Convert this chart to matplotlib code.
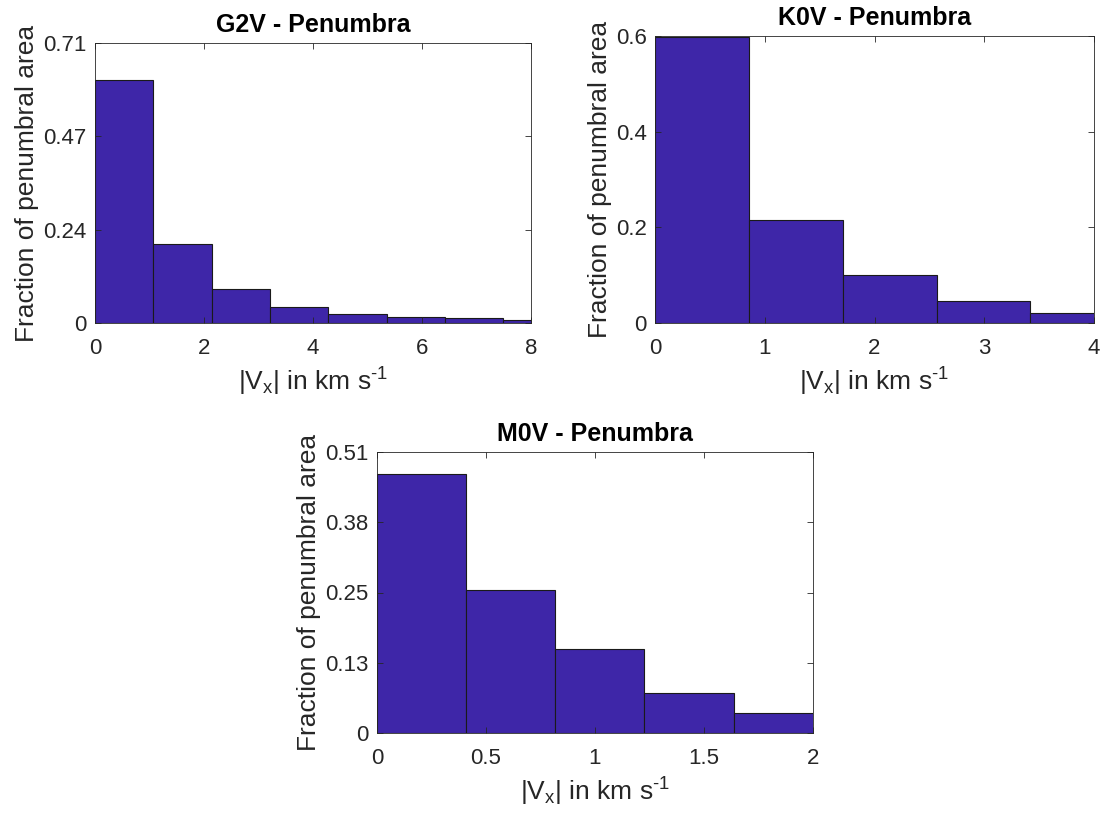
import matplotlib
matplotlib.use("Agg")
import matplotlib.pyplot as plt
import numpy as np

plt.rcParams['font.family'] = ['Liberation Sans', 'DejaVu Sans']
plt.rcParams['mathtext.fontset'] = 'custom'
plt.rcParams['mathtext.rm'] = 'Liberation Sans'
plt.rcParams['mathtext.default'] = 'regular'

# ---- data ----
g2v_edges = [0, 1.07, 2.14, 3.21, 4.28, 5.35, 6.42, 7.49, 8.56]
g2v_vals = [0.615, 0.201, 0.085, 0.040, 0.024, 0.015, 0.012, 0.0076]
g2v_xticks = [0, 2, 4, 6, 8]
g2v_yticks = [0, 0.2367, 0.4733, 0.71]
g2v_yticklabels = ['0', '0.24', '0.47', '0.71']

k0v_edges = [0, 0.855, 1.71, 2.565, 3.42, 4.275]
k0v_vals = [0.598, 0.215, 0.1006, 0.047, 0.021]
k0v_xticks = [0, 1, 2, 3, 4]
k0v_yticks = [0, 0.2, 0.4, 0.6]
k0v_yticklabels = ['0', '0.2', '0.4', '0.6']

m0v_edges = [0, 0.409, 0.818, 1.227, 1.636, 2.045]
m0v_vals = [0.470, 0.260, 0.1525, 0.0732, 0.0357]
m0v_xticks = [0, 0.5, 1, 1.5, 2]
m0v_xticklabels = ['0', '0.5', '1', '1.5', '2']
m0v_yticks = [0, 0.1275, 0.255, 0.3825, 0.51]
m0v_yticklabels = ['0', '0.13', '0.25', '0.38', '0.51']

titles = ['G2V - Penumbra', 'K0V - Penumbra', 'M0V - Penumbra']

BAR = '#3e26a8'
AX = '#262626'
FS_TICK = 16
FS_TITLE = 18
FS_LAB = 19

fig = plt.figure(figsize=(11.04, 8.16), dpi=100)
W, H = 1104, 816

def make_ax(l, r, t, b):
    return fig.add_axes([l / W, 1 - b / H, (r - l) / W, (b - t) / H])

def draw(ax, edges, vals, xlim, ylim, xticks, xtl, yticks, ytl, title):
    edges = np.array(edges)
    ax.bar(edges[:-1], vals, width=np.diff(edges), align='edge',
           color=BAR, edgecolor='#1a1a1a', linewidth=0.8)
    ax.set_xlim(*xlim)
    ax.set_ylim(*ylim)
    ax.set_xticks(xticks)
    ax.set_xticklabels(xtl)
    ax.set_yticks(yticks)
    ax.set_yticklabels(ytl)
    ax.tick_params(direction='in', top=True, right=True, length=4,
                   width=0.6, colors=AX, labelsize=FS_TICK)
    ax.tick_params(axis='x', pad=11)
    ax.tick_params(axis='y', pad=6)
    for s in ax.spines.values():
        s.set_color(AX)
        s.set_linewidth(0.6)
    ax.set_title(title, fontsize=FS_TITLE, fontweight='bold', color='black', pad=8)
    ax.set_xlabel(r'|V$_{x}$| in km s$^{\text{-1}}$', fontsize=FS_LAB, color=AX, labelpad=5)
    ax.set_ylabel('Fraction of penumbral area', fontsize=FS_LAB, color=AX, labelpad=3)

ax1 = make_ax(95, 531, 43, 323)
draw(ax1, g2v_edges, g2v_vals, (0, 8), (0, 0.71), g2v_xticks,
     [str(v) for v in g2v_xticks], g2v_yticks, g2v_yticklabels, titles[0])

ax2 = make_ax(655, 1094, 36, 323)
draw(ax2, k0v_edges, k0v_vals, (0, 4), (0, 0.6), k0v_xticks,
     [str(v) for v in k0v_xticks], k0v_yticks, k0v_yticklabels, titles[1])

ax3 = make_ax(377, 813, 452, 733)
draw(ax3, m0v_edges, m0v_vals, (0, 2), (0, 0.51), m0v_xticks,
     m0v_xticklabels, m0v_yticks, m0v_yticklabels, titles[2])

fig.savefig('out.png', dpi=100, facecolor='white')
